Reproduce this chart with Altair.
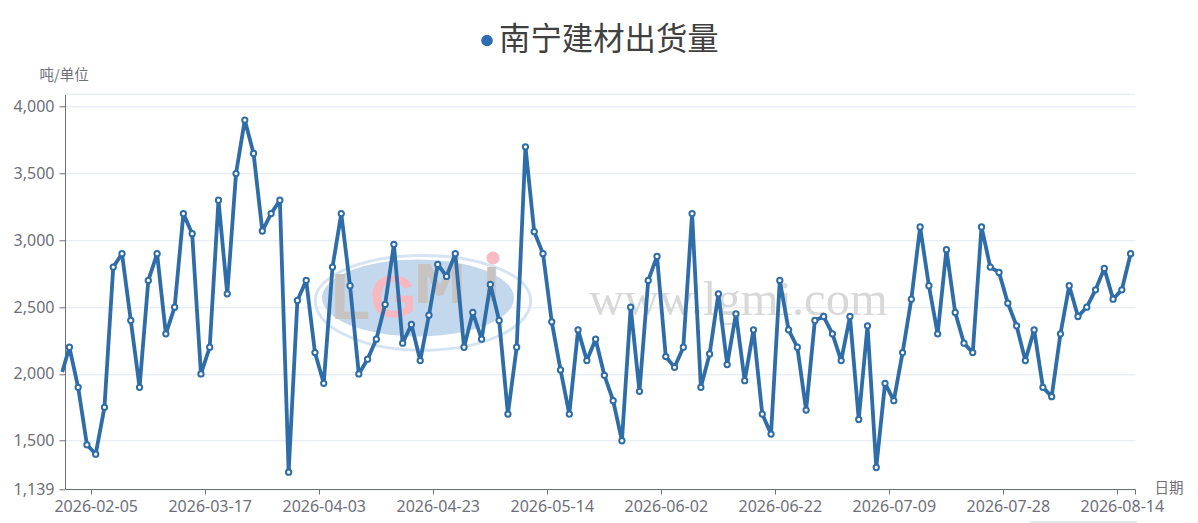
import altair as alt

title_text = "南宁建材出货量"
y_unit = "吨/单位"
x_unit = "日期"
tick_positions = [3, 16, 29, 42, 55, 68, 81, 94, 107, 120]
tick_labels = ["2026-02-05", "2026-03-17", "2026-04-03", "2026-04-23", "2026-05-14",
               "2026-06-02", "2026-06-22", "2026-07-09", "2026-07-28", "2026-08-14"]
values = [2200, 1900, 1470, 1400, 1750, 2800, 2900, 2400, 1900, 2700, 2900, 2300, 2500,
          3200, 3050, 2000, 2200, 3300, 2600, 3500, 3900, 3650, 3070, 3200, 3300, 1265,
          2550, 2700, 2160, 1930, 2800, 3200, 2660, 2000, 2110, 2260, 2520, 2970, 2230,
          2370, 2100, 2440, 2820, 2730, 2900, 2200, 2460, 2260, 2670, 2400, 1700, 2200,
          3700, 3065, 2900, 2390, 2030, 1700, 2330, 2100, 2260, 1990, 1800, 1500, 2500,
          1870, 2700, 2880, 2130, 2050, 2200, 3200, 1900, 2150, 2600, 2070, 2450, 1950,
          2330, 1700, 1550, 2700, 2330, 2200, 1730, 2400, 2430, 2300, 2100, 2430, 1660,
          2360, 1300, 1930, 1800, 2160, 2560, 3100, 2660, 2300, 2930, 2460, 2230, 2160,
          3100, 2800, 2760, 2530, 2360, 2100, 2330, 1900, 1830, 2300, 2660, 2430, 2500,
          2630, 2790, 2560, 2630, 2900]
lead_in_pos = -0.31
lead_in_val = 2015
y_min = 1139
y_max = 4093
y_ticks = [1139, 1500, 2000, 2500, 3000, 3500, 4000]

TXT = "#6E7079"
GRID = "#E0E6F1"
BLUE = "#2E6DA8"
W, H = 1070, 394.7

rows = [{"pos": i + 0.5, "val": v} for i, v in enumerate(values)]
line_rows = [{"pos": lead_in_pos, "val": lead_in_val}] + rows

label_map = "{" + ",".join(f"'{p}':'{l}'" for p, l in zip(tick_positions, tick_labels)) + "}"
x_enc = alt.X("pos:Q",
              scale=alt.Scale(domain=[0, 122], nice=False, zero=False, clamp=False),
              axis=alt.Axis(values=tick_positions + [122], grid=False,
                            labelExpr=f"({label_map})[datum.value] || ''",
                            labelOffset=4.4, labelOverlap=False, labelFlush=False,
                            labelPadding=4, labelFontSize=16, labelColor=TXT, labelFont="Noto Sans",
                            tickSize=5, tickColor=TXT, domainColor=TXT,
                            title=x_unit, titleFont="Noto Sans CJK SC", titleFontSize=14.5,
                            titleFontWeight="normal", titleColor=TXT, titleX=1089, titleY=-1,
                            titleAlign="left", titleBaseline="middle", titleAngle=0))
y_enc = alt.Y("val:Q",
              scale=alt.Scale(domain=[y_min, y_max], nice=False, zero=False),
              axis=alt.Axis(values=y_ticks, format=",d", grid=True, gridColor=GRID, gridWidth=1,
                            labelPadding=5, labelFontSize=16, labelColor=TXT, labelFont="Noto Sans",
                            tickSize=6, tickColor=TXT, domainColor=TXT,
                            title=y_unit, titleFont="Noto Sans CJK SC", titleFontSize=14.5,
                            titleFontWeight="normal", titleColor=TXT, titleX=-26, titleY=-19,
                            titleAlign="left", titleBaseline="middle", titleAngle=0))

one = alt.Data(values=[{"a": 1}])


def txt(text, px, py, size, color, font, weight="normal", align="left", style="normal"):
    return alt.Chart(one).mark_text(text=text, font=font, fontSize=size, color=color, fontWeight=weight,
                                    align=align, baseline="middle", fontStyle=style).encode(
        x=alt.value(px - 65), y=alt.value(py - 94.3))


def blob(path, px, py, size, fill=None, stroke=None, sw=0):
    kw = {"shape": path, "size": size, "filled": fill is not None, "opacity": 1}
    if fill is not None:
        kw["fill"] = fill
    if stroke is not None:
        kw["stroke"] = stroke
        kw["strokeWidth"] = sw
    else:
        kw["strokeWidth"] = 0
    return alt.Chart(one).mark_point(**kw).encode(x=alt.value(px - 65), y=alt.value(py - 94.3))


ELLIPSE = "M-1,0A1,.4,0,1,1,1,0A1,.4,0,1,1,-1,0Z"
RING = "M-1,.05A1,.42,0,1,1,1,0A1,.46,0,1,1,-1,.05Z"

wm = [
    blob(RING, 423, 298, 215 ** 2, stroke="#D6E4F2", sw=3),
    blob(ELLIPSE, 418, 298, 192 ** 2, fill="#C3D8EC"),
    txt("L", 331, 300, 64, "#C6C3C1", "Liberation Sans", "bold"),
    txt("G", 370, 299, 60, "#F9B7C0", "Liberation Sans", "bold"),
    txt("M", 413, 287, 54, "#C6C3C1", "DejaVu Sans", "bold"),
    txt("I", 483, 287, 46, "#C6C3C1", "DejaVu Sans", "bold"),
    blob("circle", 493, 258, 170, fill="#F9BBC3"),
    txt("www.lgmi.com", 589, 300, 48.5, "#D8D8D8", "Liberation Serif"),
]

base_line = alt.Chart(alt.Data(values=line_rows)).mark_line(
    color=BLUE, strokeWidth=3.8, clip=False, strokeJoin="round", strokeCap="butt"
).encode(x=x_enc, y=y_enc)
base_pts = alt.Chart(alt.Data(values=rows)).mark_point(
    filled=True, fill="white", stroke=BLUE, strokeWidth=2, size=28, opacity=1, clip=False
).encode(x=alt.X("pos:Q"), y=alt.Y("val:Q"))

top_grid = alt.Chart(one).mark_rect(color=GRID).encode(
    x=alt.value(0), x2=alt.value(W), y=alt.value(-0.5), y2=alt.value(0.5))
zoom_bar = alt.Chart(one).mark_rect(color=GRID, cornerRadius=1).encode(
    x=alt.value(965), x2=alt.value(1072), y=alt.value(426.7), y2=alt.value(429))

legend_dot = alt.Chart(one).mark_point(filled=True, fill="#2E6DB0", size=135, opacity=1, shape="circle").encode(
    x=alt.value(487 - 65), y=alt.value(40.5 - 94.3))
title = txt(title_text, 499, 40.5, 31.4, "#404040", "Noto Sans CJK SC")

chart = alt.layer(*wm, base_line, base_pts, top_grid, zoom_bar, legend_dot, title).properties(
    width=W, height=H,
    background="white",
    autosize=alt.AutoSizeParams(type="none"),
    padding={"left": 57, "top": 86.3, "right": 55, "bottom": 35},
).configure_view(strokeWidth=0, stroke="transparent")

chart.save("out.html", embed_options={"renderer": "svg", "actions": False})
